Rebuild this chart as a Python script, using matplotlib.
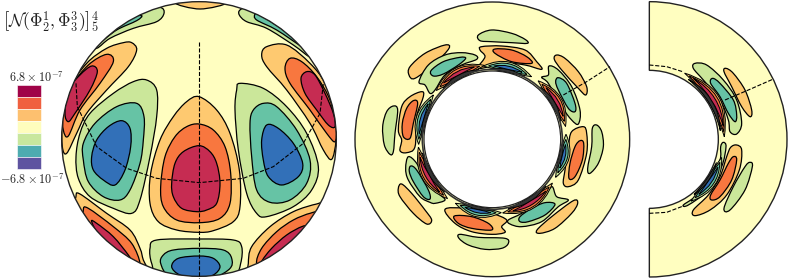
import numpy as np
import matplotlib
matplotlib.use("Agg")
import matplotlib.pyplot as plt
from matplotlib.path import Path
from matplotlib.patches import PathPatch, Circle, Wedge

plt.rcParams['mathtext.fontset'] = 'cm'
plt.rcParams['font.family'] = 'serif'

# colours of the filled levels
CRIMSON = '#c62c52'
RED = '#f8773f'
ORANGE = '#fec970'
PALE = '#fffec0'
GREEN = '#cbe79a'
TEAL = '#66c3a5'
BLUE = '#3270b8'
DARK = '#333333'

# colour bar, top to bottom
bar_colors = ['#a00348', '#f0603f', '#fdc06f', '#fefdbd', '#c8e79e', '#4eacb0', '#5e53a0']
bar_top = 255
bar_step = 36.2

# ---- sphere panel: outlines (x, y)
disc_outlines = [
    # centre lobe
    (ORANGE, [(597,290),(650,330),(690,400),(718,510),(720,620),(700,665),(640,692),(597,697),(530,690),(475,665),(450,610),(452,520),(480,420),(520,350),(560,305)]),
    (RED, [(597,372),(640,390),(675,440),(692,520),(690,610),(660,655),(600,668),(530,660),(490,620),(482,560),(495,470),(525,410),(560,380)]),
    (CRIMSON, [(597,437),(630,455),(650,490),(660,550),(650,610),(620,630),(590,635),(545,625),(520,590),(515,550),(525,490),(550,455)]),
    # left lobe
    (GREEN, [(440,240),(470,270),(470,350),(450,470),(420,600),(395,640),(340,625),(270,590),(235,535),(228,470),(240,400),(270,340),(340,280),(400,245)]),
    (TEAL, [(410,310),(432,350),(430,420),(420,490),(390,570),(360,600),(310,590),(265,545),(250,480),(250,430),(285,370),(350,320)]),
    (BLUE, [(365,362),(390,385),(392,440),(375,510),(345,555),(310,540),(280,510),(275,470),(290,420),(325,380)]),
    # right lobe
    (GREEN, [(720,250),(790,265),(860,320),(920,400),(955,500),(935,570),(880,620),(800,650),(770,640),(740,580),(715,450),(705,330),(710,270)]),
    (TEAL, [(790,310),(830,320),(890,390),(930,480),(920,550),(870,600),(810,607),(770,570),(755,470),(750,370),(760,330)]),
    (BLUE, [(800,375),(835,385),(880,430),(908,490),(895,530),(845,555),(805,530),(790,480),(785,420)]),
    # upper left
    (ORANGE, [(395,128),(410,150),(385,200),(320,270),(260,340),(230,400),(200,460),(187,440),(187,360),(205,270),(260,190),(320,145),(370,128)]),
    (RED, [(320,163),(340,185),(300,250),(240,330),(205,408),(190,390),(190,340),(215,260),(265,195)]),
    (CRIMSON, [(275,198),(292,215),(270,270),(225,340),(205,365),(195,340),(205,270),(240,225)]),
    # upper right
    (ORANGE, [(800,140),(860,135),(930,190),(975,250),(1005,340),(1008,420),(995,478),(970,450),(930,370),(860,270),(800,200),(785,165)]),
    (RED, [(870,175),(905,185),(950,230),(990,300),(1008,380),(1005,425),(980,400),(930,330),(870,250),(855,205)]),
    (CRIMSON, [(920,215),(945,225),(975,280),(1000,340),(1005,380),(985,375),(950,330),(915,280),(903,235)]),
    # top edge
    (ORANGE, [(525,8),(600,-10),(680,8),(600,27)]),
    (GREEN, [(480,22),(492,40),(470,65),(400,85),(330,115),(290,145),(260,140),(330,70),(420,25)]),
    (TEAL, [(425,47),(410,62),(350,90),(300,128),(290,128),(340,80),(390,52)]),
    (GREEN, [(720,30),(745,25),(820,55),(900,115),(930,170),(880,135),(800,85),(740,65),(718,45)]),
    (TEAL, [(765,43),(780,45),(850,90),(910,140),(905,140),(830,90),(770,60)]),
    # bottom centre
    (GREEN, [(470,720),(597,717),(700,720),(725,740),(722,790),(700,830),(600,850),(480,830),(455,790),(450,745)]),
    (TEAL, [(520,750),(597,745),(670,750),(695,775),(685,810),(600,850),(510,830),(482,790),(490,765)]),
    (BLUE, [(597,768),(640,775),(660,800),(640,825),(597,835),(540,825),(515,800),(535,775)]),
    # bottom left
    (ORANGE, [(228,590),(240,582),(320,640),(390,690),(420,745),(430,780),(445,815),(390,790),(290,710),(230,630)]),
    (RED, [(250,630),(265,625),(340,680),(395,730),(420,790),(400,795),(330,750),(260,680)]),
    (CRIMSON, [(275,665),(290,670),(340,710),(385,765),(395,785),(360,765),(305,720)]),
    # bottom right
    (ORANGE, [(950,612),(960,618),(900,720),(820,790),(750,815),(745,790),(755,740),(810,680),(880,635)]),
    (RED, [(930,640),(945,645),(880,740),(800,800),(770,790),(785,745),(830,695),(880,660)]),
    (CRIMSON, [(905,680),(915,685),(860,750),(800,790),(785,785),(815,745),(860,705)]),
]
disc_meridian_x = [597, 597]
disc_meridian_y = [125, 835]
disc_lat_x = [228,232,290,380,470,598,730,820,910,960,970]
disc_lat_y = [250,320,440,505,535,548,535,500,430,340,250]

# ---- full ring panel
ring_outlines = [
    (GREEN, [(400,105),(440,90),(500,100),(540,118),(547,130),(500,128),(440,125),(405,122)]),
    (GREEN, [(145,318),(158,330),(150,400),(145,455),(135,463),(118,435),(113,380),(125,335)]),
    (GREEN, [(755,375),(770,395),(775,440),(760,490),(735,520),(728,505),(740,440),(742,385)]),
    (GREEN, [(345,703),(400,712),(480,715),(490,730),(470,745),(420,748),(370,735),(342,715)]),
    (ORANGE, [(300,135),(312,145),(270,190),(210,235),(192,225),(195,200),(240,160)]),
    (ORANGE, [(635,165),(660,175),(700,215),(725,260),(722,285),(700,265),(650,210),(628,178)]),
    (ORANGE, [(170,552),(200,580),(240,630),(260,660),(245,672),(205,640),(165,590),(160,565)]),
    (ORANGE, [(685,602),(698,610),(680,640),(630,685),(585,700),(576,690),(620,650)]),
    (ORANGE, [(410,140),(470,138),(540,150),(575,185),(590,208),(540,195),(480,190),(410,205),(400,200),(420,170),(405,150)]),
    (RED, [(450,147),(500,150),(545,170),(560,190),(500,185),(450,160)]),
    (GREEN, [(350,158),(390,165),(395,178),(350,195),(300,225),(270,270),(255,280),(240,255),(222,245),(250,195),(300,165)]),
    (TEAL, [(345,172),(362,175),(340,195),(295,222),(265,228),(258,212),(295,185)]),
    (ORANGE, [(230,275),(235,290),(215,350),(210,440),(185,458),(165,452),(170,420),(160,390),(170,320),(195,290)]),
    (RED, [(205,302),(218,310),(205,370),(195,415),(175,410),(172,370),(185,325)]),
    (GREEN, [(612,198),(640,210),(680,260),(705,330),(700,372),(680,360),(650,320),(610,250),(590,232),(610,225)]),
    (TEAL, [(640,233),(665,250),(690,310),(690,335),(670,325),(640,270),(632,245)]),
    (ORANGE, [(715,380),(725,400),(725,460),(700,540),(670,560),(655,550),(660,510),(670,440),(680,395)]),
    (RED, [(705,422),(716,430),(712,480),(690,530),(672,535),(675,490),(690,440)]),
    (GREEN, [(190,470),(215,490),(240,540),(280,580),(300,600),(270,610),(255,607),(225,590),(190,540),(182,505)]),
    (TEAL, [(197,498),(215,510),(250,570),(255,597),(235,590),(205,545),(193,515)]),
    (ORANGE, [(300,628),(360,625),(440,640),(485,660),(470,680),(480,697),(440,703),(380,695),(330,670)]),
    (RED, [(328,648),(380,650),(430,670),(440,690),(380,685),(340,670)]),
    (GREEN, [(620,560),(635,590),(670,600),(640,620),(590,665),(530,680),(495,672),(490,660),(530,640),(590,600)]),
    (TEAL, [(600,608),(630,613),(600,645),(550,665),(525,665),(525,650),(560,625)]),
]
# thin stripes hugging the inner wall, angles in degrees (counter-clockwise on the page)
ring_warm_arcs = [(96, 139), (10, 52), (186, 233), (278, 324)]
ring_cold_arcs = [(58, 97), (143, 184), (329, 364), (240, 277)]
ring_dash_x = [655, 725, 795]
ring_dash_y = [285, 245, 200]

# ---- half ring panel
half_outlines = [
    (ORANGE, [(318,205),(340,220),(375,270),(395,330),(390,350),(365,320),(335,260),(312,215)]),
    (GREEN, [(225,190),(260,195),(310,240),(350,300),(365,370),(350,402),(330,395),(325,360),(300,300),(250,240),(220,205)]),
    (TEAL, [(278,235),(300,250),(340,300),(350,345),(345,365),(325,340),(300,290),(272,250)]),
    (ORANGE, [(350,435),(365,450),(358,510),(320,585),(270,630),(225,647),(220,630),(265,585),(300,530),(320,470),(332,442)]),
    (RED, [(340,470),(350,480),(335,540),(300,590),(275,600),(272,585),(300,540),(325,490)]),
    (GREEN, [(390,487),(397,500),(375,570),(330,630),(312,625),(340,560),(375,500)]),
    (GREEN, [(310,427),(318,440),(305,500),(265,570),(205,615),(190,615),(225,590),(270,540),(300,480),(302,440)]),
]
half_warm_arcs = [(2, 62)]
half_cold_arcs = [(-56, -14)]
half_dash_top_x = [88, 140, 188]
half_dash_top_y = [195, 200, 215]
half_dash_bot_x = [88, 140, 190]
half_dash_bot_y = [640, 637, 618]
half_dash_x = [315, 385, 458]
half_dash_y = [300, 270, 238]


def smooth_path(pts):
    # closed Catmull-Rom outline through the read points, as bezier segments
    p = np.array(pts, dtype=float)
    n = len(p)
    verts = [p[0]]
    codes = [Path.MOVETO]
    for i in range(n):
        p0, p1, p2, p3 = p[i - 1], p[i], p[(i + 1) % n], p[(i + 2) % n]
        verts += [p1 + (p2 - p0) / 6, p2 - (p3 - p1) / 6, p2]
        codes += [Path.CURVE4] * 3
    return Path(verts, codes)


def draw_outlines(ax, outlines, clip=None):
    for color, pts in outlines:
        patch = PathPatch(smooth_path(pts), facecolor=color, edgecolor='black', lw=0.9, zorder=2)
        ax.add_patch(patch)
        if clip is not None:
            patch.set_clip_path(clip)


def draw_lens(ax, c, a1, a2, r1, r2, color):
    # crescent with two pointed tips, page angles so y is flipped
    rm = (r1 + r2) / 2
    t1, t2 = np.radians(a1), np.radians(a2)
    tm = (t1 + t2) / 2
    half = (t2 - t1) / 2
    tip1 = (c[0] + rm * np.cos(t1), c[1] - rm * np.sin(t1))
    tip2 = (c[0] + rm * np.cos(t2), c[1] - rm * np.sin(t2))
    r_out = rm / np.cos(half) + (r2 - r1)
    r_in = rm / np.cos(half) - (r2 - r1)
    out = (c[0] + r_out * np.cos(tm), c[1] - r_out * np.sin(tm))
    inn = (c[0] + r_in * np.cos(tm), c[1] - r_in * np.sin(tm))
    path = Path([tip1, out, tip2, inn, tip1],
                [Path.MOVETO, Path.CURVE3, Path.CURVE3, Path.CURVE3, Path.CURVE3])
    ax.add_patch(PathPatch(path, facecolor=color, edgecolor='black', lw=0.7, zorder=3))


def draw_stripes(ax, c, warm, cold, r0):
    for a1, a2 in warm:
        draw_lens(ax, c, a1, a2, r0 + 1, r0 + 35, ORANGE)
        draw_lens(ax, c, a1 + 4, a2 - 4, r0 + 4, r0 + 31, RED)
        draw_lens(ax, c, a1 + 5, a2 - 5, r0 + 2, r0 + 13, DARK)
        draw_lens(ax, c, a1 + 8, a2 - 8, r0 + 13, r0 + 24, CRIMSON)
    for a1, a2 in cold:
        draw_lens(ax, c, a1, a2, r0 + 1, r0 + 32, GREEN)
        draw_lens(ax, c, a1 + 4, a2 - 4, r0 + 4, r0 + 27, TEAL)
        draw_lens(ax, c, a1 + 5, a2 - 5, r0 + 2, r0 + 10, DARK)
        draw_lens(ax, c, a1 + 8, a2 - 8, r0 + 10, r0 + 20, BLUE)


def make_axes(fig, left, width):
    # each panel uses 3 data units per pixel, y pointing down
    ax = fig.add_axes([left / 789, 0, width / 789, 1])
    ax.set_xlim(0, width * 3)
    ax.set_ylim(279 * 3, 0)
    ax.axis('off')
    return ax


fig = plt.figure(figsize=(7.89, 2.79), dpi=100)

# sphere
ax1 = make_axes(fig, 0, 340)
disc = Circle((597, 417), 412, facecolor=PALE, edgecolor='none', zorder=1)
ax1.add_patch(disc)
draw_outlines(ax1, disc_outlines, clip=disc)
ax1.add_patch(Circle((597, 417), 412, facecolor='none', edgecolor='#222222', lw=1.0, zorder=4))
ax1.plot(disc_meridian_x, disc_meridian_y, color='black', lw=0.8, ls='--', zorder=5)
ax1.plot(disc_lat_x, disc_lat_y, color='black', lw=0.8, ls='--', zorder=5)
bottoms = [bar_top + i * bar_step for i in range(len(bar_colors))]
ax1.bar([87] * len(bar_colors), [bar_step] * len(bar_colors), bottom=bottoms, width=71,
        color=bar_colors, edgecolor='white', lw=0.4, zorder=3)
ax1.text(108, 232, r'$6.8\times10^{-7}$', ha='center', va='center', fontsize=8.8, color='#222222')
ax1.text(97, 540, r'$-6.8\times10^{-7}$', ha='center', va='center', fontsize=8.8, color='#222222')
ax1.text(8, 68, r'$\left[\mathcal{N}(\Phi_2^1,\Phi_3^3)\right]_5^4$', ha='left', va='center',
         fontsize=12.5, color='#222222')

# full ring
ax2 = make_axes(fig, 345, 295)
c2 = (442, 418)
ax2.add_patch(Circle(c2, 412, facecolor=PALE, edgecolor='#222222', lw=1.0, zorder=1))
draw_outlines(ax2, ring_outlines)
draw_stripes(ax2, c2, ring_warm_arcs, ring_cold_arcs, 205)
ax2.add_patch(Circle(c2, 205, facecolor='white', edgecolor='#222222', lw=0.9, zorder=4))
ax2.add_patch(Circle(c2, 210, facecolor='none', edgecolor='#333333', lw=1.2, zorder=4))
ax2.plot(ring_dash_x, ring_dash_y, color='black', lw=0.8, ls='--', zorder=5)

# half ring
ax3 = make_axes(fig, 620, 169)
c3 = (88, 418)
ax3.add_patch(Wedge(c3, 413, -90, 90, width=206, facecolor=PALE, edgecolor='none', zorder=1))
draw_outlines(ax3, half_outlines)
draw_stripes(ax3, c3, half_warm_arcs, half_cold_arcs, 207)
ax3.add_patch(Wedge(c3, 413, -90, 90, width=206, facecolor='none', edgecolor='#222222', lw=1.0, zorder=4))
ax3.plot(half_dash_top_x, half_dash_top_y, color='black', lw=0.8, ls='--', zorder=5)
ax3.plot(half_dash_bot_x, half_dash_bot_y, color='black', lw=0.8, ls='--', zorder=5)
ax3.plot(half_dash_x, half_dash_y, color='black', lw=0.8, ls='--', zorder=5)

fig.savefig('out.png', dpi=100)
